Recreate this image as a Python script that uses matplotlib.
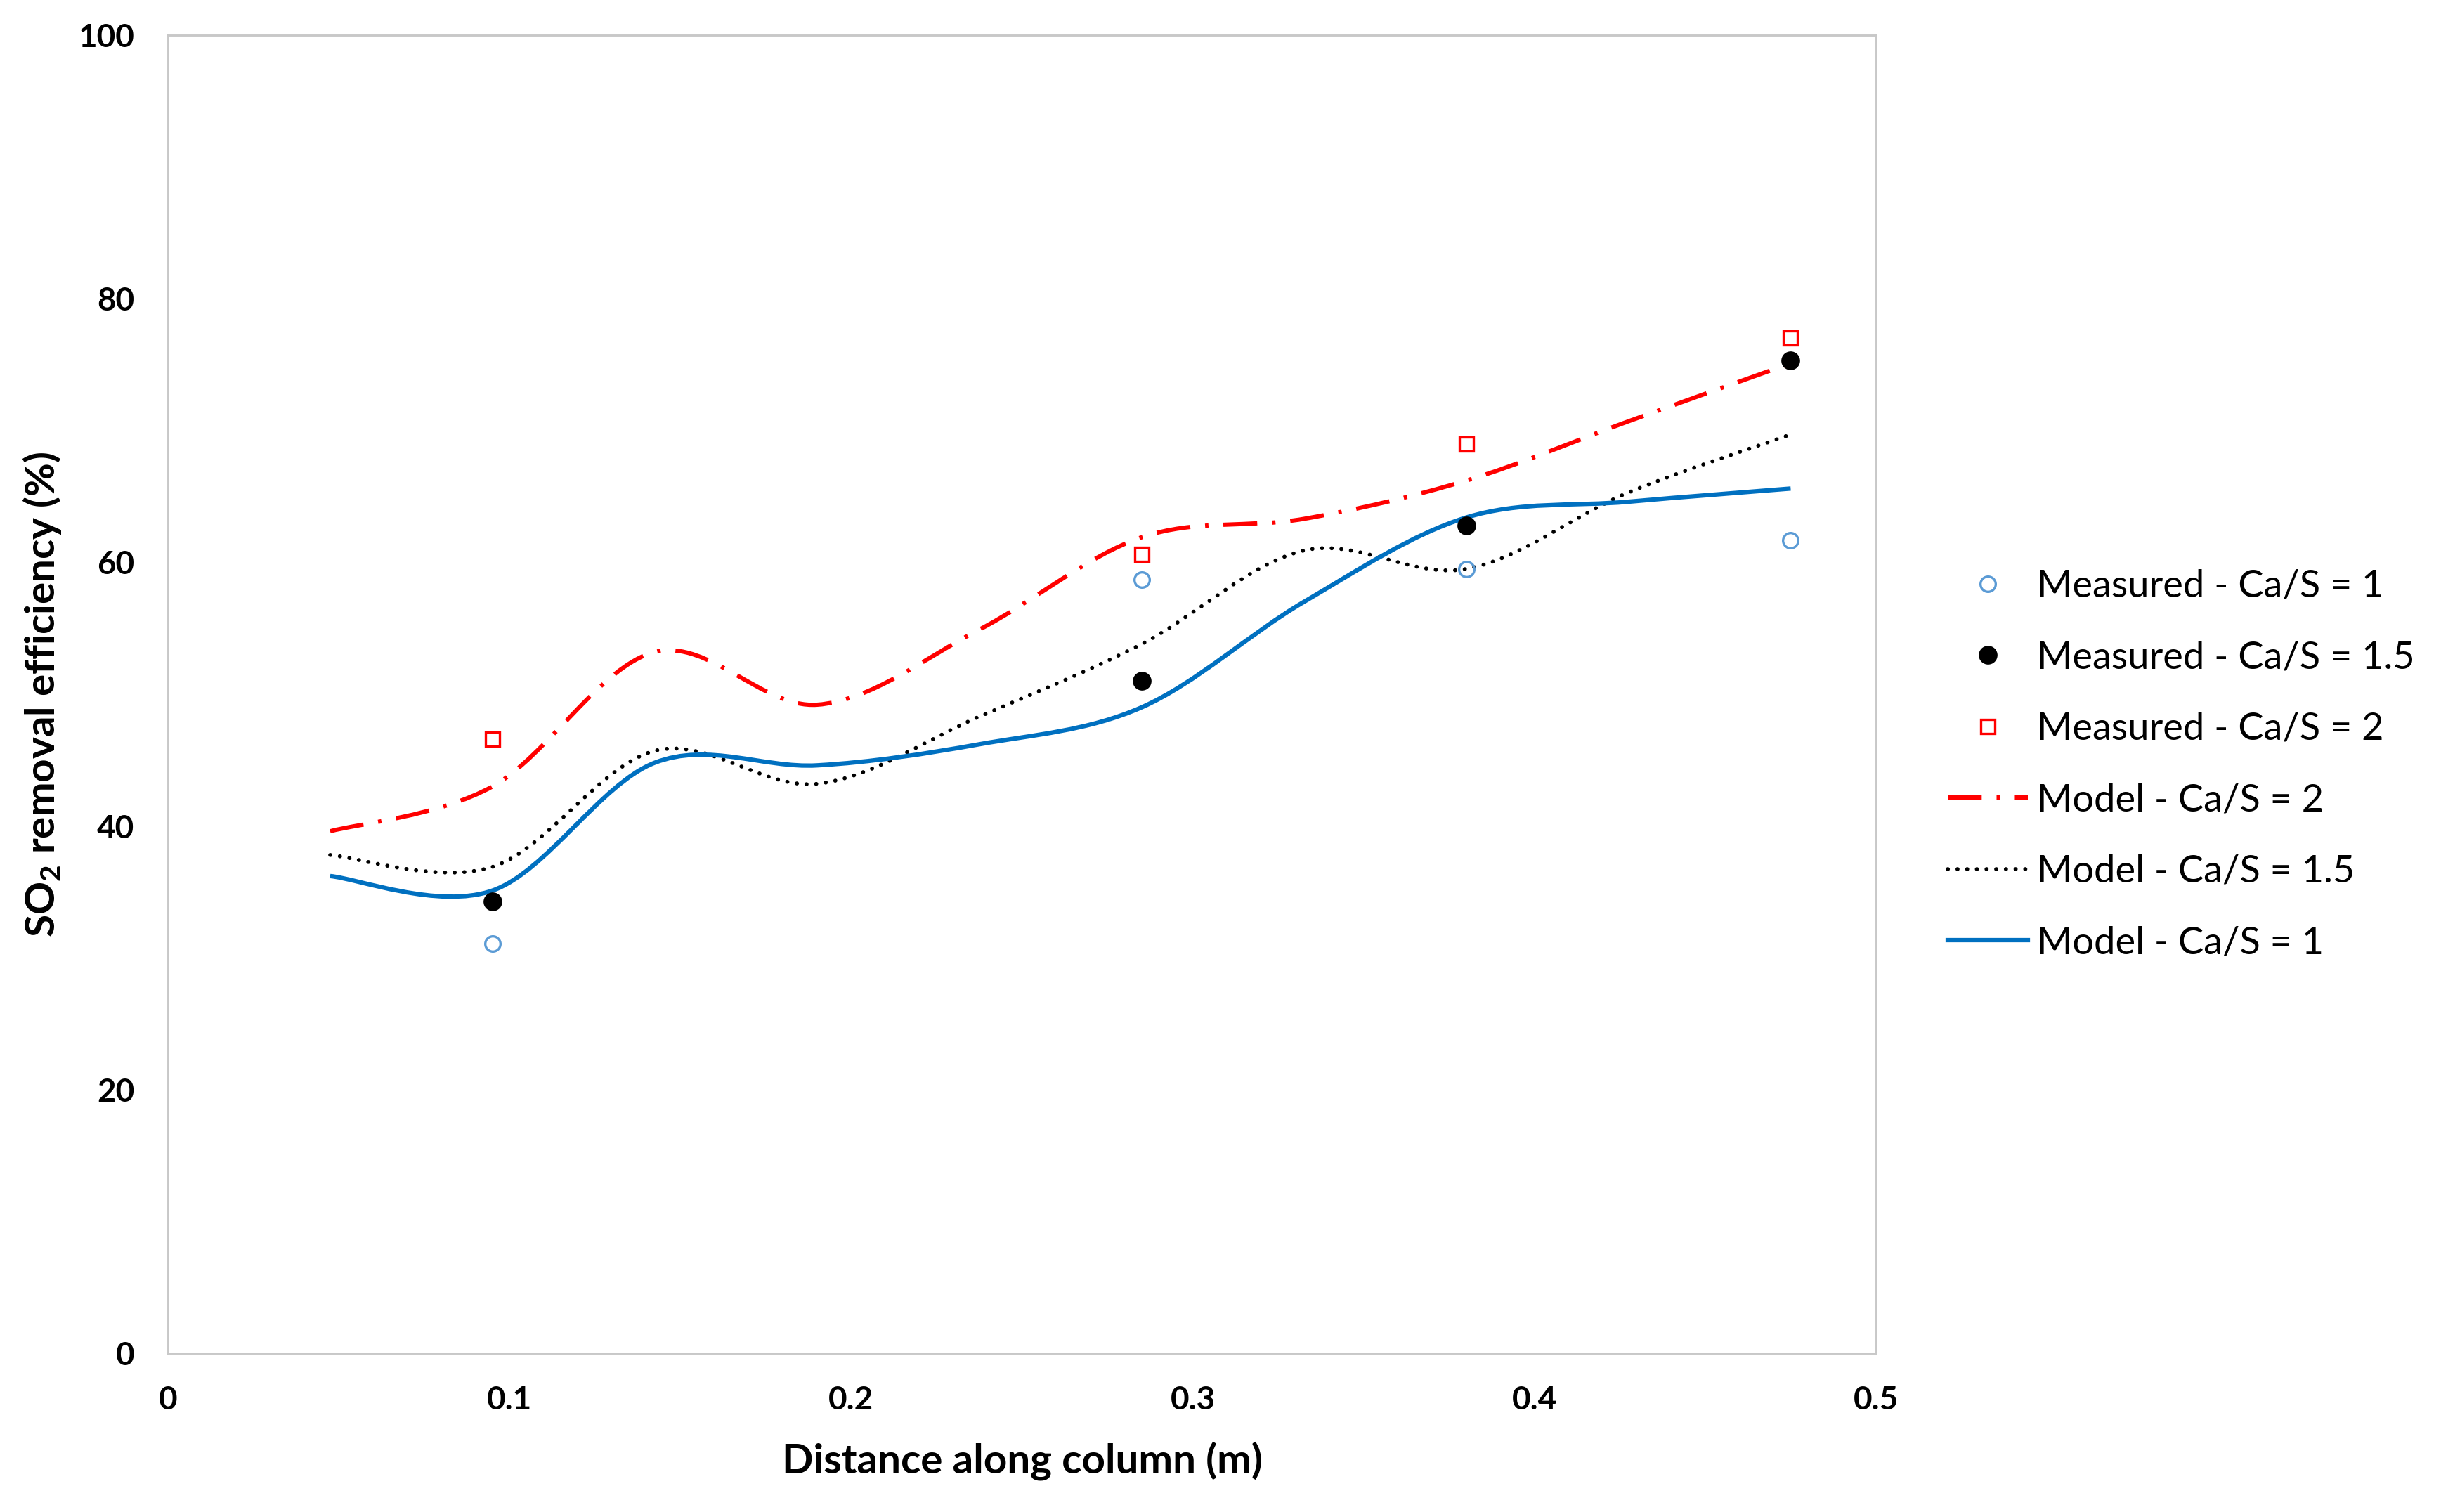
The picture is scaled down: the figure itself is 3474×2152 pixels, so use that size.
import numpy as np
import matplotlib
matplotlib.use("Agg")
import matplotlib.pyplot as plt
from matplotlib.path import Path
from matplotlib.patches import PathPatch
from matplotlib.lines import Line2D

# ---------------- data ----------------
meas_x = [0.095, 0.285, 0.38, 0.475]
meas_cas1 = [31.1, 58.7, 59.5, 61.7]
meas_cas15 = [34.3, 51.0, 62.8, 75.3]
meas_cas2 = [46.6, 60.6, 69.0, 77.0]

model_x = [0.0475, 0.095, 0.1425, 0.19, 0.2375, 0.285, 0.3325, 0.38, 0.4275, 0.475]
model_cas2 = [39.6, 43.0, 53.2, 49.2, 54.9, 61.9, 63.3, 66.2, 70.7, 75.1]
model_cas15 = [37.8, 36.9, 45.7, 43.2, 48.3, 53.8, 60.9, 59.5, 65.3, 69.7]
model_cas1 = [36.2, 35.1, 44.8, 44.6, 46.2, 49.0, 57.0, 63.4, 64.6, 65.6]

x_ticks = [0, 0.1, 0.2, 0.3, 0.4, 0.5]
x_ticklabels = ["0", "0.1", "0.2", "0.3", "0.4", "0.5"]
y_ticks = [0, 20, 40, 60, 80, 100]
y_ticklabels = ["0", "20", "40", "60", "80", "100"]

labels = ["Measured - Ca/S = 1", "Measured - Ca/S = 1.5", "Measured - Ca/S = 2",
          "Model - Ca/S = 2", "Model - Ca/S = 1.5", "Model - Ca/S = 1"]

# ---------------- style ----------------
FONT = "Lato"
plt.rcParams["font.family"] = [FONT, "DejaVu Sans"]
plt.rcParams["mathtext.fontset"] = "custom"
plt.rcParams["mathtext.rm"] = FONT + ":bold"
plt.rcParams["mathtext.default"] = "rm"

BLUE_LINE = "#0070C0"
BLUE_MARK = "#5B9BD5"
RED = "#FF0000"


def smooth_path(xs, ys):
    """Excel-style smoothed line: cubic Bezier segments through the points."""
    pts = np.column_stack([xs, ys])
    n = len(pts)
    verts = [tuple(pts[0])]
    codes = [Path.MOVETO]
    for i in range(n - 1):
        p0 = pts[i - 1] if i > 0 else pts[i]
        p1 = pts[i]
        p2 = pts[i + 1]
        p3 = pts[i + 2] if i + 2 < n else pts[i + 1]
        c1 = p1 + (p2 - p0) / 6.0
        c2 = p2 - (p3 - p1) / 6.0
        verts += [tuple(c1), tuple(c2), tuple(p2)]
        codes += [Path.CURVE4] * 3
    return Path(verts, codes)


fig = plt.figure(figsize=(3474 / 300, 2152 / 300), dpi=300)
ax = fig.add_axes([239 / 3474, 1 - 1926 / 2152, (2670 - 239) / 3474, (1926 - 50) / 2152])

# model curves
red_ls = (0, (8, 3.5, 0.8, 3.5))
dot_ls = (0, (0.05, 2.4))
ax.add_patch(PathPatch(smooth_path(model_x, model_cas2), fill=False, edgecolor=RED,
                       lw=1.45, linestyle=red_ls, capstyle="butt", zorder=3))
ax.add_patch(PathPatch(smooth_path(model_x, model_cas15), fill=False, edgecolor="black",
                       lw=1.35, linestyle=dot_ls, capstyle="round", zorder=3))
ax.add_patch(PathPatch(smooth_path(model_x, model_cas1), fill=False, edgecolor=BLUE_LINE,
                       lw=1.5, linestyle="-", zorder=3))

# measured points
ax.plot(meas_x, meas_cas1, linestyle="none", marker="o", ms=5.2, mfc="none",
        mec=BLUE_MARK, mew=0.8, zorder=4)
ax.plot(meas_x, meas_cas15, linestyle="none", marker="o", ms=5.6, mfc="black",
        mec="black", mew=0.8, zorder=4)
ax.plot(meas_x, meas_cas2, linestyle="none", marker="s", ms=5.0, mfc="none",
        mec=RED, mew=0.8, zorder=4)

ax.set_xlim(0, 0.5)
ax.set_ylim(0, 100)
ax.set_xticks(x_ticks)
ax.set_xticklabels(x_ticklabels)
ax.set_yticks(y_ticks)
ax.set_yticklabels(y_ticklabels)
ax.tick_params(axis="both", length=0, labelsize=11, pad=0)
ax.tick_params(axis="y", pad=11.5)
ax.tick_params(axis="x", pad=11)
for lab in ax.get_xticklabels() + ax.get_yticklabels():
    lab.set_fontweight("bold")
for sp in ax.spines.values():
    sp.set_color("#C8C8C8")
    sp.set_linewidth(0.7)

ax.set_xlabel("Distance along column (m)", fontsize=14, fontweight="bold", labelpad=9)
ax.set_ylabel("SO$_2$ removal efficiency (%)", fontsize=14, fontweight="bold", labelpad=5)

handles = [
    Line2D([], [], linestyle="none", marker="o", ms=5.2, mfc="none", mec=BLUE_MARK, mew=0.8),
    Line2D([], [], linestyle="none", marker="o", ms=5.6, mfc="black", mec="black", mew=0.8),
    Line2D([], [], linestyle="none", marker="s", ms=5.0, mfc="none", mec=RED, mew=0.8),
    Line2D([], [], color=RED, lw=1.45, linestyle=red_ls),
    Line2D([], [], color="black", lw=1.35, linestyle=dot_ls, dash_capstyle="round"),
    Line2D([], [], color=BLUE_LINE, lw=1.5),
]
fig.legend(handles, labels, loc="center left", bbox_to_anchor=(2772 / 3474, 1 - 1088 / 2152),
           frameon=False, fontsize=13, handlelength=2.1, handletextpad=0.25,
           labelspacing=0.97, borderpad=0, borderaxespad=0, numpoints=1)

fig.savefig("out.png", dpi=300, facecolor="white")
